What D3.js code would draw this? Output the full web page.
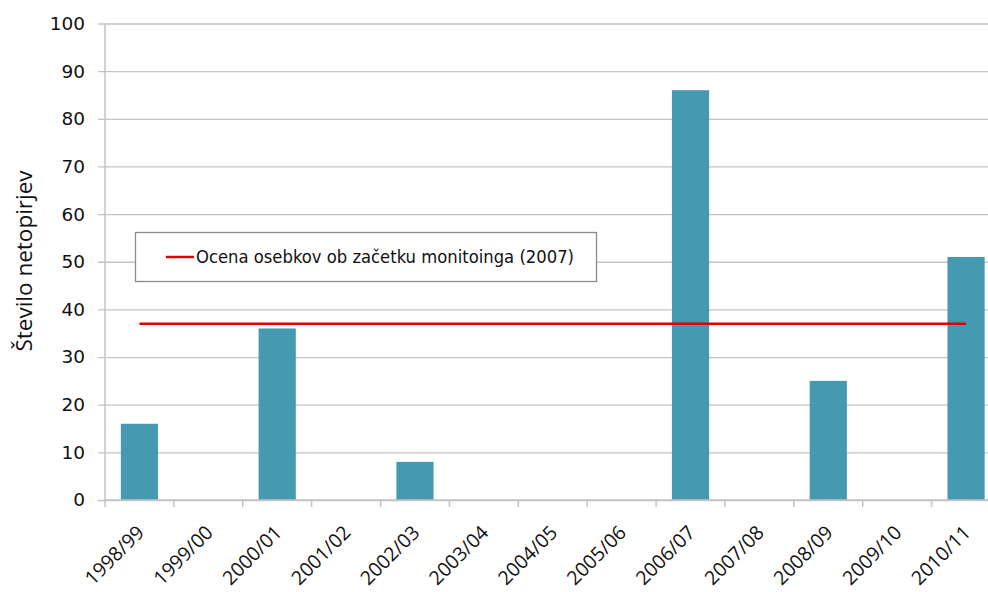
<!DOCTYPE html>
<html>
<head>
<meta charset="utf-8">
<script src="https://cdn.jsdelivr.net/npm/d3@7"></script>
<style>
  html, body { margin: 0; padding: 0; background: #fff; }
  svg { display: block; }
</style>
</head>
<body>
<svg id="chart" width="988" height="592"></svg>
<script>
const categories = ["1998/99","1999/00","2000/01","2001/02","2002/03","2003/04","2004/05","2005/06","2006/07","2007/08","2008/09","2009/10","2010/11"];
const counts = [16, 0, 36, 0, 8, 0, 0, 0, 86, 0, 25, 0, 51];
const estimateValue = 37;
const estimateLabel = "Ocena osebkov ob začetku monitoinga (2007)";
const yTicks = [0, 10, 20, 30, 40, 50, 60, 70, 80, 90, 100];
const yTitle = "Število netopirjev";

const svg = d3.select("#chart");
const pLeft = 105, pRight = 1000.5, pTop = 23.5, pBottom = 500;

const x = d3.scaleBand().domain(categories).range([pLeft, pRight]).paddingInner(0.46).paddingOuter(0.23);
const y = d3.scaleLinear().domain([0, 100]).range([pBottom, pTop]);

const gridColor = "#c3c3c3";

// gridlines + y ticks
const yAxis = d3.axisLeft(y).tickValues(yTicks).tickSize(-(pRight - pLeft)).tickSizeOuter(0).tickPadding(20);
const gy = svg.append("g").attr("transform", `translate(${pLeft},0)`).call(yAxis);
gy.select(".domain").remove();
gy.selectAll(".tick line").attr("stroke", gridColor).attr("stroke-width", 1.3).attr("x1", -7);
gy.selectAll(".tick text").attr("font-family", "'DejaVu Sans', Verdana, sans-serif").attr("font-size", 18.5).attr("fill", "#111");

// y axis line
svg.append("line").attr("x1", pLeft).attr("x2", pLeft).attr("y1", pTop).attr("y2", pBottom)
  .attr("stroke", gridColor).attr("stroke-width", 1.5);

// bars
svg.append("g").selectAll("rect").data(categories.map((c, i) => ({c, v: counts[i]})).filter(d => d.v > 0))
  .join("rect")
  .attr("x", d => x(d.c)).attr("width", x.bandwidth())
  .attr("y", d => y(d.v)).attr("height", d => y(0) - y(d.v))
  .attr("fill", "#4599b0");

// x axis
const step = x.step();
const gx = svg.append("g").attr("transform", `translate(0,${pBottom})`);
gx.append("line").attr("x1", pLeft).attr("x2", pRight).attr("stroke", gridColor).attr("stroke-width", 1.5);
gx.selectAll("line.tk").data(d3.range(categories.length + 1)).join("line").attr("class", "tk")
  .attr("x1", i => pLeft + i * step).attr("x2", i => pLeft + i * step)
  .attr("y1", 0).attr("y2", 7).attr("stroke", gridColor).attr("stroke-width", 1.5);
gx.selectAll("text").data(categories).join("text")
  .attr("transform", d => `translate(${x(d) + x.bandwidth() / 2 + 1},${29}) rotate(-45)`)
  .attr("text-anchor", "end").attr("dy", "0.35em")
  .attr("font-family", "'Open Sans', sans-serif").attr("font-size", 19.5).attr("fill", "#111")
  .text(d => d);

// estimate line
svg.append("line")
  .attr("x1", x(categories[0]) + x.bandwidth() / 2)
  .attr("x2", x(categories[categories.length - 1]) + x.bandwidth() / 2)
  .attr("y1", y(estimateValue)).attr("y2", y(estimateValue))
  .attr("stroke", "#e00000").attr("stroke-width", 2.5);

// legend
const lg = svg.append("g");
lg.append("rect").attr("x", 135.5).attr("y", 232.5).attr("width", 461).attr("height", 49)
  .attr("fill", "#fff").attr("stroke", "#8a8a8a").attr("stroke-width", 1.3);
lg.append("line").attr("x1", 166).attr("x2", 194).attr("y1", 257).attr("y2", 257)
  .attr("stroke", "#e00000").attr("stroke-width", 2.5);
lg.append("text").attr("x", 196).attr("y", 257).attr("dy", "0.35em")
  .attr("font-family", "'DejaVu Sans Condensed', 'DejaVu Sans', sans-serif").attr("font-size", 18)
  .attr("textLength", 378).attr("lengthAdjust", "spacingAndGlyphs")
  .attr("fill", "#111").text(estimateLabel);

// y title
svg.append("text").attr("transform", `translate(24,${261}) rotate(-90)`)
  .attr("text-anchor", "middle").attr("dy", "0.35em")
  .attr("font-family", "'Open Sans', sans-serif").attr("font-size", 22.5).attr("fill", "#111")
  .text(yTitle);
</script>
</body>
</html>
